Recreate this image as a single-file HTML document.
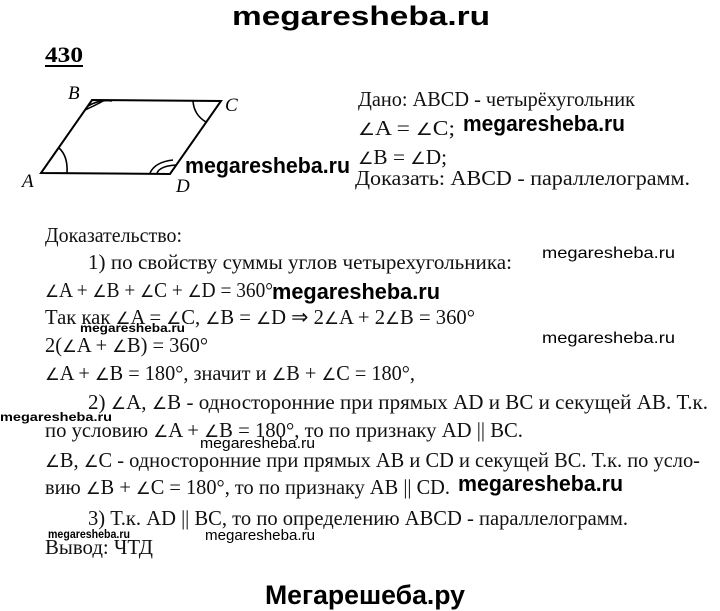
<!DOCTYPE html>
<html><head><meta charset="utf-8"><style>
html,body{margin:0;padding:0;background:#fff;}
svg{display:block}
.s{font-family:"Liberation Serif",serif;font-size:21px;fill:#111}
.a{font-family:"DejaVu Sans",sans-serif;font-size:17px;font-weight:normal}
.b{font-family:"Liberation Sans",sans-serif;font-weight:bold;fill:#000}
.w{font-family:"Liberation Sans",sans-serif;fill:#000}
.i{font-family:"Liberation Serif",serif;font-style:italic;font-size:19px;fill:#000}
</style></head><body>
<svg width="720" height="611" viewBox="0 0 720 611" xmlns="http://www.w3.org/2000/svg">
<text class="b" x="232" y="25" font-size="27" textLength="258" lengthAdjust="spacingAndGlyphs">megaresheba.ru</text>
<text font-family="Liberation Serif" font-weight="bold" font-size="22" x="45" y="62" textLength="38" lengthAdjust="spacingAndGlyphs">430</text>
<line x1="45" y1="66" x2="83" y2="66" stroke="#000" stroke-width="2"/>
<polygon points="41,173 92,100 221,101 170,174" fill="none" stroke="#000" stroke-width="2"/>
<path d="M59,148 Q68,156 67,173" fill="none" stroke="#000" stroke-width="1.6"/>
<path d="M85,110 Q98,104 103,101" fill="none" stroke="#000" stroke-width="1.6"/>
<path d="M88,106 Q100,99 112,101" fill="none" stroke="#000" stroke-width="1.6"/>
<path d="M193,101 Q194,115 206,122" fill="none" stroke="#000" stroke-width="1.6"/>
<path d="M150,173 Q155,162 173,160" fill="none" stroke="#000" stroke-width="1.6"/>
<path d="M157,173 Q160,166 176,165" fill="none" stroke="#000" stroke-width="1.6"/>
<text class="i" x="68" y="99">B</text>
<text class="i" x="225" y="111">C</text>
<text class="i" x="22" y="187">A</text>
<text class="i" x="176" y="192">D</text>
<text class="s" x="358" y="106" textLength="277" lengthAdjust="spacingAndGlyphs">Дано: ABCD - четырёхугольник</text>
<text class="s" x="358" y="135" textLength="97" lengthAdjust="spacingAndGlyphs"><tspan class="a">∠</tspan>A = <tspan class="a">∠</tspan>C;</text>
<text class="s" x="358" y="164" textLength="89" lengthAdjust="spacingAndGlyphs"><tspan class="a">∠</tspan>B = <tspan class="a">∠</tspan>D;</text>
<text class="s" x="355" y="185" textLength="335" lengthAdjust="spacingAndGlyphs">Доказать: ABCD - параллелограмм.</text>
<text class="b" x="463" y="131" font-size="22" textLength="162" lengthAdjust="spacingAndGlyphs">megaresheba.ru</text>
<text class="b" x="185" y="173" font-size="22" textLength="165" lengthAdjust="spacingAndGlyphs">megaresheba.ru</text>
<text class="s" x="45" y="242" textLength="137" lengthAdjust="spacingAndGlyphs">Доказательство:</text>
<text class="s" x="88" y="269" textLength="424" lengthAdjust="spacingAndGlyphs">1)  по свойству суммы углов четырехугольника:</text>
<text class="s" x="45" y="297" textLength="228" lengthAdjust="spacingAndGlyphs"><tspan class="a">∠</tspan>A + <tspan class="a">∠</tspan>B + <tspan class="a">∠</tspan>C + <tspan class="a">∠</tspan>D = 360°</text>
<text class="s" x="45" y="324" textLength="430" lengthAdjust="spacingAndGlyphs">Так как <tspan class="a">∠</tspan>A = <tspan class="a">∠</tspan>C, <tspan class="a">∠</tspan>B = <tspan class="a">∠</tspan>D ⇒ 2<tspan class="a">∠</tspan>A + 2<tspan class="a">∠</tspan>B = 360°</text>
<text class="s" x="45" y="352" textLength="163" lengthAdjust="spacingAndGlyphs">2(<tspan class="a">∠</tspan>A + <tspan class="a">∠</tspan>B) = 360°</text>
<text class="s" x="45" y="380" textLength="370" lengthAdjust="spacingAndGlyphs"><tspan class="a">∠</tspan>A + <tspan class="a">∠</tspan>B = 180°, значит и <tspan class="a">∠</tspan>B + <tspan class="a">∠</tspan>C = 180°,</text>
<text class="s" x="88" y="409" textLength="620" lengthAdjust="spacingAndGlyphs">2)  <tspan class="a">∠</tspan>A, <tspan class="a">∠</tspan>B - односторонние при прямых AD и BC и секущей AB. Т.к.</text>
<text class="s" x="45" y="437" textLength="478" lengthAdjust="spacingAndGlyphs">по условию <tspan class="a">∠</tspan>A + <tspan class="a">∠</tspan>B = 180°, то по признаку AD || BC.</text>
<text class="s" x="45" y="467" textLength="655" lengthAdjust="spacingAndGlyphs"><tspan class="a">∠</tspan>B, <tspan class="a">∠</tspan>C - односторонние при прямых AB и CD и секущей BC. Т.к. по усло-</text>
<text class="s" x="45" y="494" textLength="405" lengthAdjust="spacingAndGlyphs">вию <tspan class="a">∠</tspan>B + <tspan class="a">∠</tspan>C = 180°, то по признаку AB || CD.</text>
<text class="s" x="88" y="525" textLength="540" lengthAdjust="spacingAndGlyphs">3) Т.к. AD || BC, то по определению ABCD - параллелограмм.</text>
<text class="s" x="45" y="554" textLength="108" lengthAdjust="spacingAndGlyphs">Вывод: ЧТД</text>
<text class="b" x="272" y="299" font-size="22" textLength="168" lengthAdjust="spacingAndGlyphs">megaresheba.ru</text>
<text class="b" x="458" y="491" font-size="22" textLength="165" lengthAdjust="spacingAndGlyphs">megaresheba.ru</text>
<text class="w" x="542" y="258" font-size="16" textLength="133" lengthAdjust="spacingAndGlyphs">megaresheba.ru</text>
<text class="w" x="542" y="343" font-size="16" textLength="133" lengthAdjust="spacingAndGlyphs">megaresheba.ru</text>
<text class="b" x="80" y="332" font-size="12" textLength="105" lengthAdjust="spacingAndGlyphs">megaresheba.ru</text>
<text class="b" x="0" y="421" font-size="12" textLength="112" lengthAdjust="spacingAndGlyphs">megaresheba.ru</text>
<text class="w" x="200" y="448" font-size="15" textLength="115" lengthAdjust="spacingAndGlyphs">megaresheba.ru</text>
<text class="b" x="48" y="538" font-size="12" textLength="82" lengthAdjust="spacingAndGlyphs">megaresheba.ru</text>
<text class="w" x="205" y="540" font-size="15" textLength="110" lengthAdjust="spacingAndGlyphs">megaresheba.ru</text>
<text class="b" x="265" y="604" font-size="27" textLength="200" lengthAdjust="spacingAndGlyphs">Мегарешеба.ру</text>
</svg>
</body></html>
